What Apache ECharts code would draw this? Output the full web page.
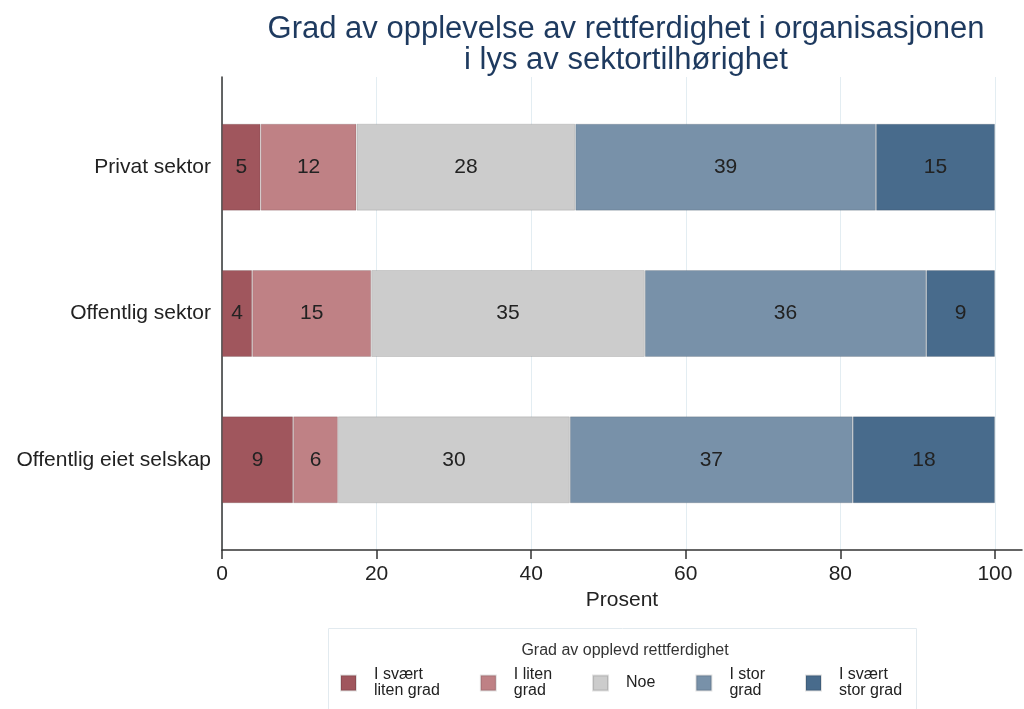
<!DOCTYPE html>
<html>
<head>
<meta charset="utf-8">
<script src="https://cdn.jsdelivr.net/npm/echarts@6/dist/echarts.min.js"></script>
<style>html,body{margin:0;padding:0;background:#fff}#c{width:1024px;height:709px}</style>
</head>
<body>
<div id="c"></div>
<script>
var categories = ['Privat sektor', 'Offentlig sektor', 'Offentlig eiet selskap'];
var seriesNames = ['I svært liten grad', 'I liten grad', 'Noe', 'I stor grad', 'I svært stor grad'];
var legendLabels = ['I svært\nliten grad', 'I liten\ngrad', 'Noe', 'I stor\ngrad', 'I svært\nstor grad'];
var sVeryLow = [5.0, 3.9, 9.2];
var sLow = [12.4, 15.4, 5.8];
var sSome = [28.3, 35.4, 30.0];
var sHigh = [38.9, 36.4, 36.6];
var sVeryHigh = [15.4, 8.9, 18.4];
var xTicks = [0, 20, 40, 60, 80, 100];
var colors = ['#a0565d', '#bf8185', '#cccccc', '#7891a9', '#486b8c'];

var seriesData = [sVeryLow, sLow, sSome, sHigh, sVeryHigh];
var font = '"Liberation Sans", Arial, sans-serif';
var chart = echarts.init(document.getElementById('c'));

var series = seriesData.map(function (d, i) {
  return {
    name: seriesNames[i], type: 'bar', stack: 'tot',
    xAxisIndex: 0, yAxisIndex: 0, barWidth: 87,
    itemStyle: { color: colors[i], borderColor: 'rgba(0,0,0,0.12)', borderWidth: 1 },
    label: {
      show: true, position: 'inside', color: '#222', fontSize: 21, fontFamily: font,
      formatter: function (p) { return Math.round(p.value); }
    },
    data: d
  };
});

chart.setOption({
  animation: false,
  backgroundColor: '#fff',
  title: [{
    text: 'Grad av opplevelse av rettferdighet i organisasjonen\ni lys av sektortilhørighet',
    left: 621, top: 9, textAlign: 'center',
    textStyle: { color: '#1e3a5f', fontSize: 31, fontWeight: 'normal', fontFamily: font, lineHeight: 31 }
  }, {
    text: 'Grad av opplevd rettferdighet',
    left: 620, top: 638, textAlign: 'center',
    textStyle: { color: '#333', fontSize: 16, fontWeight: 'normal', fontFamily: font }
  }],
  graphic: [{
    type: 'rect', shape: { x: 328.5, y: 628.5, width: 588, height: 90 },
    style: { fill: 'none', stroke: '#e2eaef', lineWidth: 1 }, z: -1
  }],
  legend: {
    data: seriesNames, left: 340, top: 667, padding: 0,
    itemWidth: 15, itemHeight: 15, itemGap: 40, icon: 'rect',
    formatter: function (n) { return legendLabels[seriesNames.indexOf(n)]; },
    textStyle: { fontSize: 16, lineHeight: 16, color: '#222', fontFamily: font, padding: [0, 0, 0, 13] }
  },
  grid: [
    { left: 222, width: 773, top: 94, height: 439 },
    { left: 222, width: 773, top: 77, height: 473 },
    { left: 222, right: 2, top: 77, height: 473 }
  ],
  xAxis: [
    { gridIndex: 0, type: 'value', min: 0, max: 100, show: false },
    { gridIndex: 1, type: 'value', min: 0, max: 100, interval: 20,
      axisLine: { show: false }, axisTick: { show: false }, axisLabel: { show: false },
      splitLine: { show: true, lineStyle: { color: '#e3edf2', width: 1 } } },
    { gridIndex: 2, type: 'value', min: 0, max: 103.5,
      axisLine: { show: true, onZero: false, lineStyle: { color: '#333', width: 1.5 } },
      axisTick: { show: true, length: 9, customValues: xTicks, lineStyle: { color: '#333', width: 1.5 } },
      axisLabel: { show: true, customValues: xTicks, fontSize: 21, color: '#222', fontFamily: font, margin: 14 },
      splitLine: { show: false },
      name: 'Prosent', nameLocation: 'middle', nameGap: 40,
      nameTextStyle: { fontSize: 21, color: '#222', fontFamily: font } }
  ],
  yAxis: [
    { gridIndex: 0, type: 'category', data: categories, inverse: true,
      axisLine: { show: false }, axisTick: { show: false },
      axisLabel: { fontSize: 21, color: '#222', fontFamily: font, margin: 11 } },
    { gridIndex: 1, type: 'value', show: false },
    { gridIndex: 2, type: 'value', min: 0, max: 1,
      axisLine: { show: true, onZero: false, lineStyle: { color: '#333', width: 1.5 } },
      axisTick: { show: false }, axisLabel: { show: false }, splitLine: { show: false } }
  ],
  series: series
});
</script>
</body>
</html>
